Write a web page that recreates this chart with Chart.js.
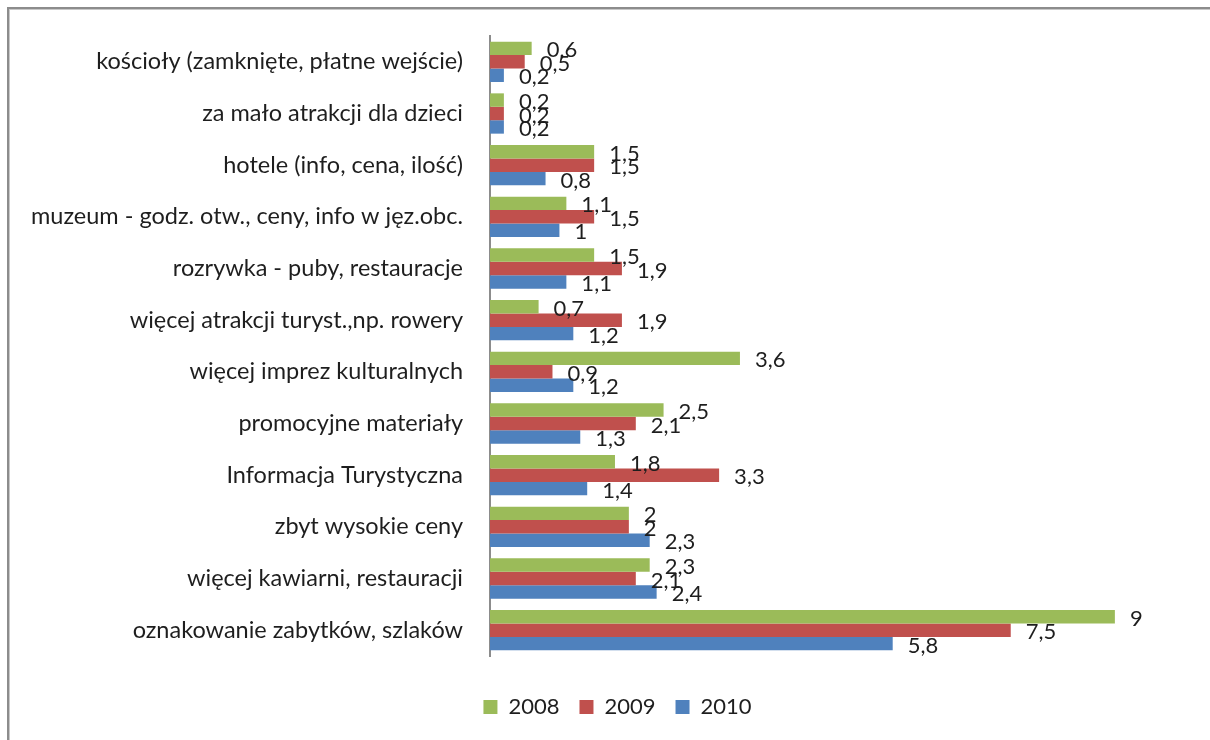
<!DOCTYPE html>
<html>
<head>
<meta charset="utf-8">
<script src="https://cdn.jsdelivr.net/npm/chart.js@4"></script>
<style>
  html, body { margin: 0; padding: 0; background: #fff; }
  body { width: 1210px; height: 740px; overflow: hidden; position: relative; }
  .frame {
    position: absolute; left: 7px; top: 7px; width: 1300px; height: 800px;
    border-left: 2px solid #8c8c8c; border-top: 2px solid #8c8c8c;
    box-shadow: inset 1px 1px 0 #c8c8c8;
  }
  .wrap { position: absolute; left: 0; top: 0; width: 1210px; height: 740px; }
</style>
</head>
<body>
<div class="frame"></div>
<div class="wrap"><canvas id="myChart" width="1210" height="740"></canvas></div>
<script>
let categories = [
  'kościoły (zamknięte, płatne wejście)',
  'za mało atrakcji dla dzieci',
  'hotele (info, cena, ilość)',
  'muzeum - godz. otw., ceny, info w jęz.obc.',
  'rozrywka - puby, restauracje',
  'więcej atrakcji turyst.,np. rowery',
  'więcej imprez kulturalnych',
  'promocyjne materiały',
  'Informacja Turystyczna',
  'zbyt wysokie ceny',
  'więcej kawiarni, restauracji',
  'oznakowanie zabytków, szlaków'
];
let values2008 = [0.6, 0.2, 1.5, 1.1, 1.5, 0.7, 3.6, 2.5, 1.8, 2, 2.3, 9];
let values2009 = [0.5, 0.2, 1.5, 1.5, 1.9, 1.9, 0.9, 2.1, 3.3, 2, 2.1, 7.5];
let values2010 = [0.2, 0.2, 0.8, 1, 1.1, 1.2, 1.2, 1.3, 1.4, 2.3, 2.4, 5.8];
let seriesNames = ['2008', '2009', '2010'];

const fontName = 'Lato, "Open Sans", sans-serif';

// value labels to the right of every bar, with decimal comma
const valueLabels = {
  id: 'valueLabels',
  afterDatasetsDraw(chart) {
    const ctx = chart.ctx;
    ctx.save();
    ctx.font = '22px ' + fontName;
    ctx.fillStyle = '#1e1e1e';
    ctx.textBaseline = 'middle';
    ctx.textAlign = 'left';
    chart.data.datasets.forEach((ds, i) => {
      let meta = chart.getDatasetMeta(i);
      meta.data.forEach((bar, j) => {
        let txt = String(ds.data[j]).replace('.', ',');
        ctx.fillText(txt, bar.x + 15, bar.y + 2);
      });
    });
    ctx.restore();
  }
};

const ctx = document.getElementById('myChart');
new Chart(ctx, {
  type: 'bar',
  data: {
    labels: categories,
    datasets: [
      { label: seriesNames[0], data: values2008, backgroundColor: '#9BBB59' },
      { label: seriesNames[1], data: values2009, backgroundColor: '#C0504D' },
      { label: seriesNames[2], data: values2010, backgroundColor: '#4F81BD' }
    ]
  },
  options: {
    indexAxis: 'y',
    responsive: false,
    animation: false,
    datasets: {
      bar: { categoryPercentage: 0.78, barPercentage: 1.0 }
    },
    layout: { padding: { left: 25, right: 0, top: 36, bottom: 12 } },
    scales: {
      x: {
        display: true, min: 0, max: 10.37,
        ticks: { display: false },
        grid: { display: false },
        border: { display: false },
        afterFit(scale) { scale.height = 20; scale.paddingLeft = 0; scale.paddingRight = 0; }
      },
      y: {
        grid: { display: false, drawTicks: false },
        border: { display: true, color: '#8c8c8c', width: 2 },
        ticks: { padding: 27, color: '#1e1e1e', font: { family: fontName, size: 23.5 } },
        afterFit(scale) {
          scale.width = 465;
          scale.paddingTop = 0;
          scale.paddingBottom = 0;
        }
      }
    },
    plugins: {
      tooltip: { enabled: false },
      legend: {
        position: 'bottom',
        labels: {
          boxWidth: 14, boxHeight: 14, padding: 20,
          color: '#1e1e1e',
          font: { family: fontName, size: 22 }
        }
      }
    }
  },
  plugins: [valueLabels]
});
</script>
</body>
</html>
